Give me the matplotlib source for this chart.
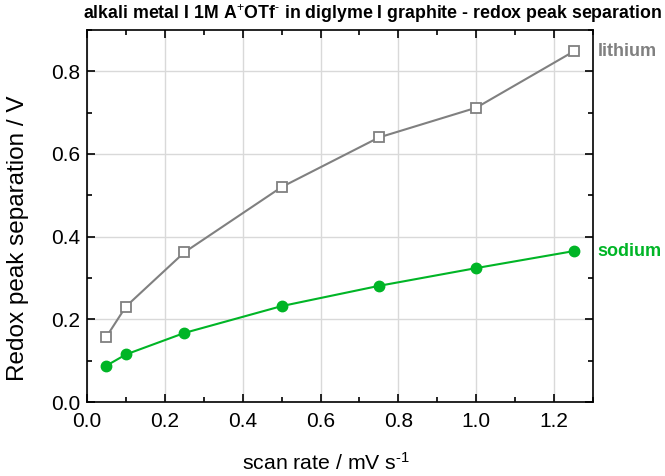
import matplotlib
matplotlib.use("Agg")
import matplotlib.pyplot as plt
from matplotlib.ticker import MultipleLocator

plt.rcParams['font.family'] = ['Liberation Sans', 'DejaVu Sans']
plt.rcParams['mathtext.fontset'] = 'custom'
plt.rcParams['mathtext.rm'] = 'Liberation Sans'
plt.rcParams['mathtext.bf'] = 'Liberation Sans:bold'
plt.rcParams['mathtext.default'] = 'regular'

scan_rate = [0.05, 0.1, 0.25, 0.5, 0.75, 1.0, 1.25]
lithium = [0.158, 0.231, 0.362, 0.520, 0.640, 0.712, 0.848]
sodium = [0.088, 0.115, 0.167, 0.232, 0.281, 0.324, 0.365]

gray = '#808080'
green = '#00b526'

fig = plt.figure(figsize=(6.65, 4.76), dpi=100)
ax = fig.add_axes([87/665, 1-402/476, (593-87)/665, (402-30)/476])

ax.plot(scan_rate, lithium, color=gray, lw=1.5, marker='s', ms=6.5,
        mfc='white', mec=gray, mew=1.3, zorder=3)
ax.plot(scan_rate, sodium, color=green, lw=1.5, marker='o', ms=7.5,
        mfc=green, mec=green, zorder=3)

ax.set_xlim(0, 1.3)
ax.set_ylim(0, 0.9)
ax.xaxis.set_major_locator(MultipleLocator(0.2))
ax.xaxis.set_minor_locator(MultipleLocator(0.1))
ax.yaxis.set_major_locator(MultipleLocator(0.2))
ax.yaxis.set_minor_locator(MultipleLocator(0.1))
ax.grid(True, which='major', color='#d9d9d9', lw=1.0, zorder=0)
ax.tick_params(which='both', direction='in', top=True, right=True, width=1.2)
ax.tick_params(which='major', length=6, labelsize=15)
ax.tick_params(axis='x', which='major', pad=7)
ax.tick_params(axis='y', which='major', pad=5)
ax.tick_params(which='minor', length=3.5)
for s in ax.spines.values():
    s.set_linewidth(1.2)

ax.set_xlabel('scan rate / mV s$^{\\text{-1}}$', fontsize=15.3)
ax.xaxis.set_label_coords(0.472, -50/372)
ax.set_ylabel('Redox peak separation / V', fontsize=17.5)
ax.yaxis.set_label_coords(-58/506, 0.44)

ax.text(1.01, lithium[-1], 'lithium', transform=ax.get_yaxis_transform(),
        color=gray, fontsize=13, fontweight='bold', va='center', ha='left')
ax.text(1.008, sodium[-1], 'sodium', transform=ax.get_yaxis_transform(),
        color=green, fontsize=13, fontweight='bold', va='center', ha='left')

fig.text(83/665, 1-14/476, 'alkali metal I 1M A$^{\\text{+}}$OTf$^{\\text{-}}$ in diglyme I graphite - redox peak separation',
         fontsize=12.8, fontweight='bold', va='center', ha='left')

fig.savefig('out.png', dpi=100)
